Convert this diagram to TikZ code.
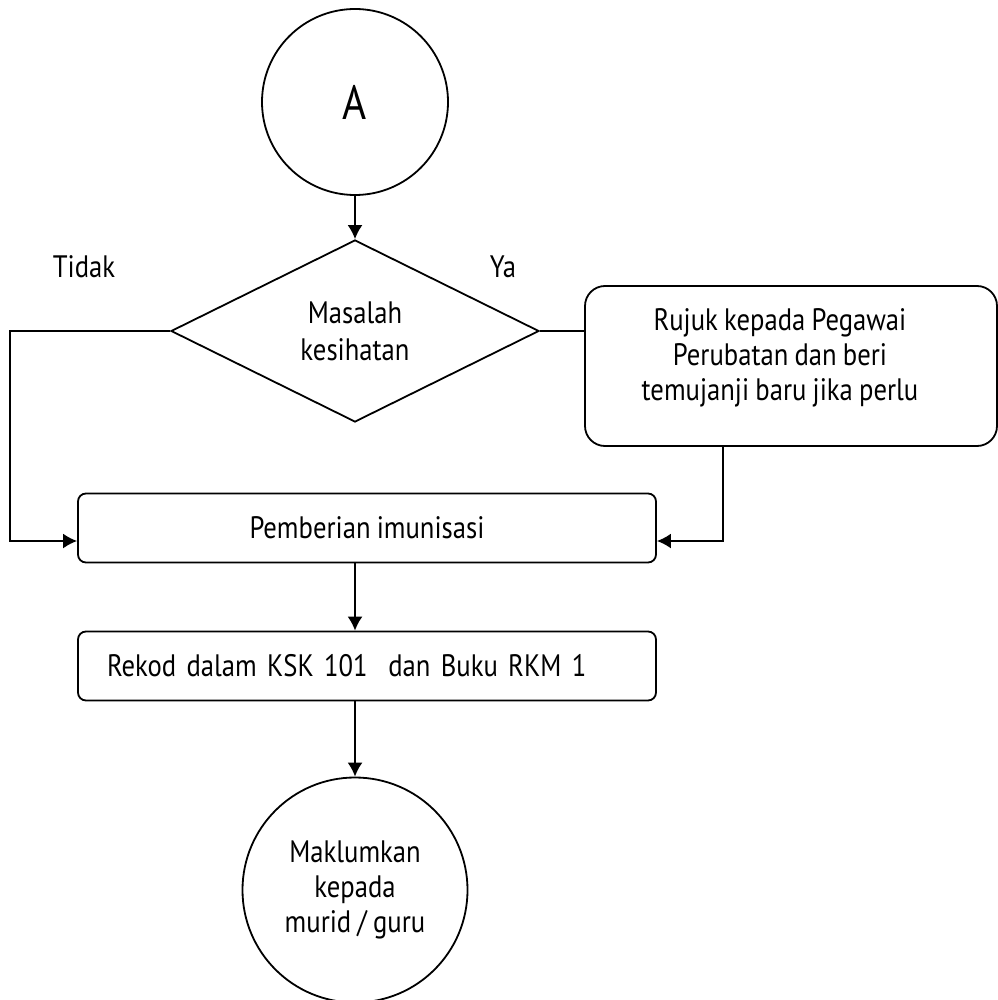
\documentclass[tikz,border=0pt]{standalone}
\usepackage{fontspec}
\setmainfont{PT Sans}[FakeStretch=0.86]
\usetikzlibrary{shapes.geometric, arrows.meta, positioning, calc}
\newcommand{\flowfont}{\fontsize{15.5}{17.5}\selectfont\spaceskip=3.1pt plus 1pt minus 0.5pt\relax}

\begin{document}
\begin{tikzpicture}[x=0.5pt, y=-0.5pt, line width=0.9pt,
    txt/.style={font=\flowfont, align=center, inner sep=0pt},
    conn node/.style={circle, draw, txt, minimum size=#1},
    dec node/.style={diamond, draw, txt, aspect=2, minimum width=184pt, minimum height=91pt},
    step box/.style={rectangle, rounded corners=#1, draw, txt},
    flow/.style={-{Latex[length=7pt,width=7.5pt]}}]
  \useasboundingbox (0,0) rectangle (997,1000);
  % nodes
  \node[conn node=93pt, font=\fontsize{24}{26}\selectfont] (a) at (355,102) {A};
  \node[dec node] (dec) at (355,331) {Masalah\\[1pt]kesihatan};
  \node[txt] (tidak) at (84,267) {Tidak};
  \node[txt] (ya) at (503,267) {Ya};
  \node[step box=10pt, minimum width=206pt, minimum height=80pt] (rujuk) at (791,366) {};
  \node[txt] (rujuktxt) at (780,358) {Rujuk kepada Pegawai\\Perubatan dan beri\\temujanji baru jika perlu};
  \node[step box=4pt, minimum width=289pt, minimum height=34.5pt] (imun) at (367,528) {Pemberian imunisasi};
  \node[step box=4pt, text width=260pt, inner xsep=14.5pt, minimum height=34.5pt, align=left] (rekod) at (367,666) {Rekod dalam KSK 101\ \ dan Buku RKM 1};
  \node[conn node=112.5pt] (inform) at (355,890) {Maklumkan\\kepada\\murid / guru};
  \coordinate (lcorner) at (10,541);
  \coordinate (rdrop) at ($(rujuk.south west)!0.335!(rujuk.south east)$);
  % connectors
  \draw[flow] (a) -- (dec.north);
  \draw[flow] (dec.west) -| (lcorner) -- (imun.west |- lcorner);
  \draw (dec.east) -- (dec.east -| rujuk.west);
  \draw[flow] (rdrop) |- (imun.east |- lcorner);
  \draw[flow] (imun.south -| a) -- (rekod.north -| a);
  \draw[flow] (rekod.south -| a) -- (inform);
\end{tikzpicture}
\end{document}
